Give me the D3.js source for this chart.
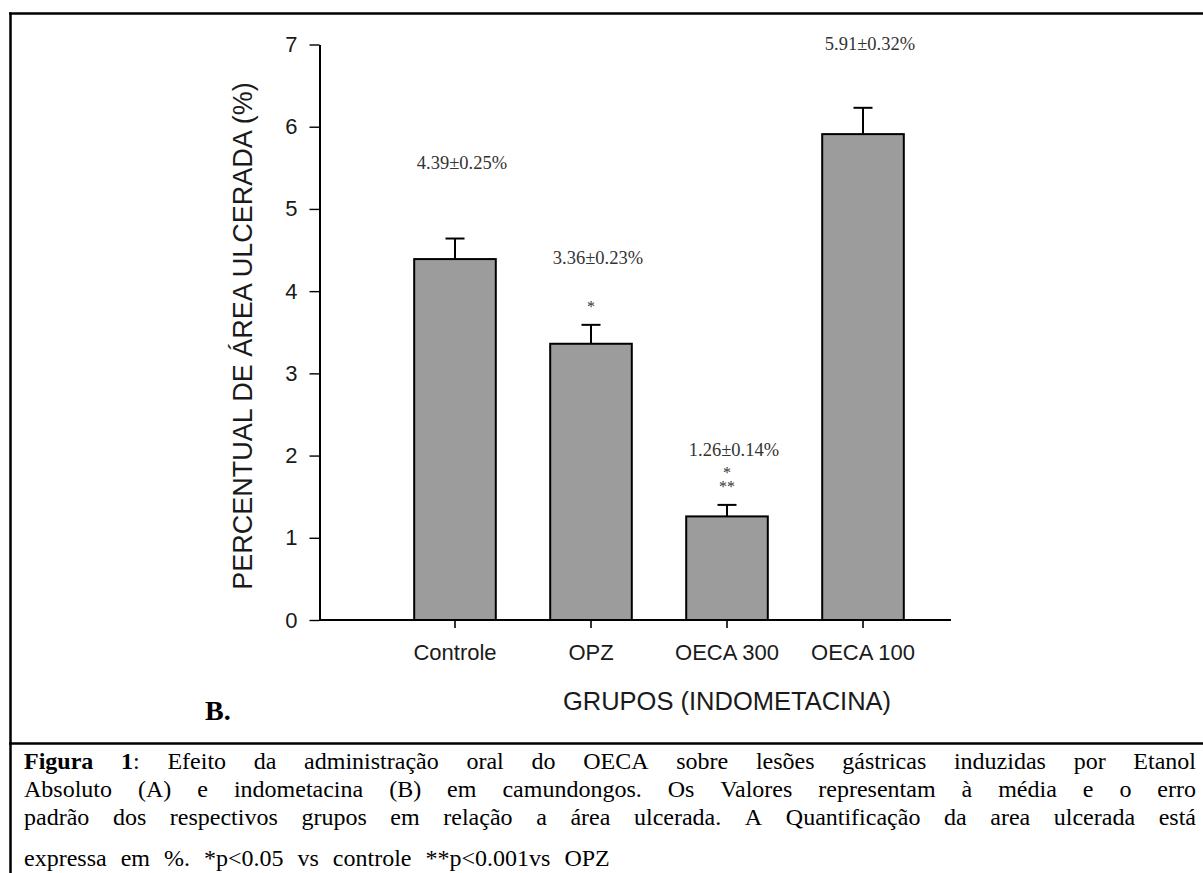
<!DOCTYPE html>
<html><head><meta charset="utf-8">
<script src="https://cdn.jsdelivr.net/npm/d3@7"></script>
<style>html,body{margin:0;padding:0;background:#fff;overflow:hidden}</style>
</head><body><svg id="c" width="1203" height="873"></svg>
<script>
// ---- data ----
const categories = ["Controle", "OPZ", "OECA 300", "OECA 100"];
const means = [4.39, 3.36, 1.26, 5.91];
const sems = [0.25, 0.23, 0.14, 0.32];
const valueLabels = ["4.39±0.25%", "3.36±0.23%", "1.26±0.14%", "5.91±0.32%"];
const labelLevels = [5.48, 4.33, 1.99, 6.93];
const significance = [[], ["*"], ["*", "**"], []];
const yTicks = [0, 1, 2, 3, 4, 5, 6, 7];
const yTitle = "PERCENTUAL DE ÁREA ULCERADA (%)";
const xTitle = "GRUPOS (INDOMETACINA)";
const panelLabel = "B.";
const captionBold = "Figura 1";
const captionLines = [
  "Figura 1: Efeito da administração oral do OECA sobre lesões gástricas induzidas por Etanol",
  "Absoluto (A) e indometacina (B) em camundongos. Os Valores representam à média e o erro",
  "padrão dos respectivos grupos em relação a área ulcerada. A Quantificação da area ulcerada está",
  "expressa em %. *p<0.05 vs controle **p<0.001vs OPZ"
];

// ---- drawing ----
const SANS = "'Liberation Sans', Arial, sans-serif";
const SERIF = "'Liberation Serif', 'Times New Roman', serif";
const svg = d3.select("#c");

const y = d3.scaleLinear().domain([0, 7]).range([620, 44.5]);
const x = d3.scaleBand().domain(categories).range([367, 951]).paddingInner(0.4).paddingOuter(0.347);
const bw = x.bandwidth();

// frame
svg.append("line").attr("x1", 9).attr("x2", 1203).attr("y1", 13.5).attr("y2", 13.5).attr("stroke", "#000").attr("stroke-width", 2.5);
svg.append("line").attr("x1", 10.5).attr("x2", 10.5).attr("y1", 12.5).attr("y2", 873).attr("stroke", "#000").attr("stroke-width", 2.5);
svg.append("line").attr("x1", 9).attr("x2", 1203).attr("y1", 743.5).attr("y2", 743.5).attr("stroke", "#000").attr("stroke-width", 2.5);

const data = categories.map((c, i) => ({c, m: means[i], s: sems[i], lab: valueLabels[i], lv: labelLevels[i], sig: significance[i]}));

// bars
svg.append("g").selectAll("rect").data(data).join("rect")
  .attr("x", d => x(d.c)).attr("y", d => y(d.m))
  .attr("width", bw).attr("height", d => y(0) - y(d.m))
  .attr("fill", "#9c9c9c").attr("stroke", "#000").attr("stroke-width", 2);

// error bars
const eg = svg.append("g").attr("stroke", "#000").attr("stroke-width", 2);
data.forEach(d => {
  const cx = x(d.c) + bw / 2;
  eg.append("line").attr("x1", cx).attr("x2", cx).attr("y1", y(d.m)).attr("y2", y(d.m + d.s));
  eg.append("line").attr("x1", cx - 9.5).attr("x2", cx + 9.5).attr("y1", y(d.m + d.s)).attr("y2", y(d.m + d.s));
});

// value labels
svg.append("g").selectAll("text").data(data).join("text")
  .attr("x", d => x(d.c) + bw / 2 + 7).attr("y", d => y(d.lv))
  .attr("text-anchor", "middle").attr("font-family", SERIF).attr("font-size", 18.5).attr("fill", "#333")
  .text(d => d.lab);

// significance marks (one text per bar, rows as tspans)
data.filter(d => d.sig.length).forEach(d => {
  const cx = x(d.c) + bw / 2;
  const n = d.sig.length;
  const t = svg.append("text").attr("text-anchor", "middle").attr("font-family", SERIF)
    .attr("font-size", 16).attr("fill", "#333");
  d.sig.forEach((s, k) => {
    t.append("tspan").attr("x", cx).attr("y", y(d.m + d.s) - 13 - (n - 1 - k) * 13.5).text(s);
  });
});

// y axis
const gy = svg.append("g").attr("transform", "translate(319.5,0)")
  .call(d3.axisLeft(y).tickValues(yTicks).tickFormat(d3.format("d")).tickSize(10).tickSizeOuter(0).tickPadding(12));
gy.select(".domain").attr("stroke", "#000").attr("stroke-width", 2);
gy.selectAll(".tick line").attr("stroke", "#000").attr("stroke-width", 1.4);
gy.selectAll(".tick text").attr("font-family", SANS).attr("font-size", 22).attr("fill", "#1a1a1a");

// x axis
const gx = svg.append("g").attr("transform", "translate(0,620)")
  .call(d3.axisBottom(x).tickSize(8).tickPadding(16));
gx.select(".domain").remove();
gx.selectAll(".tick line").attr("stroke", "#000").attr("stroke-width", 1.6);
gx.selectAll(".tick text").attr("font-family", SANS).attr("font-size", 22).attr("fill", "#1a1a1a");
svg.append("line").attr("x1", 319).attr("x2", x.range()[1]).attr("y1", 620).attr("y2", 620)
  .attr("stroke", "#000").attr("stroke-width", 2);

// titles
svg.append("text").attr("transform", "translate(252,336) rotate(-90)").attr("text-anchor", "middle")
  .attr("font-family", SANS).attr("font-size", 27).attr("fill", "#1a1a1a").text(yTitle);
svg.append("text").attr("x", 727).attr("y", 710).attr("text-anchor", "middle")
  .attr("font-family", SANS).attr("font-size", 25.5).attr("fill", "#1a1a1a").text(xTitle);
svg.append("text").attr("x", 205).attr("y", 720).attr("font-family", SERIF).attr("font-weight", "bold")
  .attr("font-size", 28).attr("fill", "#000").text(panelLabel);

// caption (justified)
const capLeft = 24, capRight = 1196;
const capBase = [769, 797, 825, 866];
const boldWords = captionBold.split(" ");
captionLines.forEach((line, li) => {
  const words = line.split(" ");
  const g = svg.append("g");
  const nodes = words.map((w, wi) => {
    const t = g.append("text").attr("y", capBase[li]).attr("font-family", SERIF).attr("font-size", 24).attr("fill", "#000");
    if (li === 0 && wi < boldWords.length && w.startsWith(boldWords[wi])) {
      t.append("tspan").attr("font-weight", "bold").text(boldWords[wi]);
      const rest = w.slice(boldWords[wi].length);
      if (rest) t.append("tspan").text(rest);
    } else {
      t.text(w);
    }
    return t;
  });
  const widths = nodes.map(t => t.node().getComputedTextLength());
  const total = d3.sum(widths);
  const justify = li < captionLines.length - 1;
  const gap = justify ? (capRight - capLeft - total) / (words.length - 1) : 14;
  let cx = capLeft;
  nodes.forEach((t, i) => { t.attr("x", cx); cx += widths[i] + gap; });
});
</script>
</body></html>
